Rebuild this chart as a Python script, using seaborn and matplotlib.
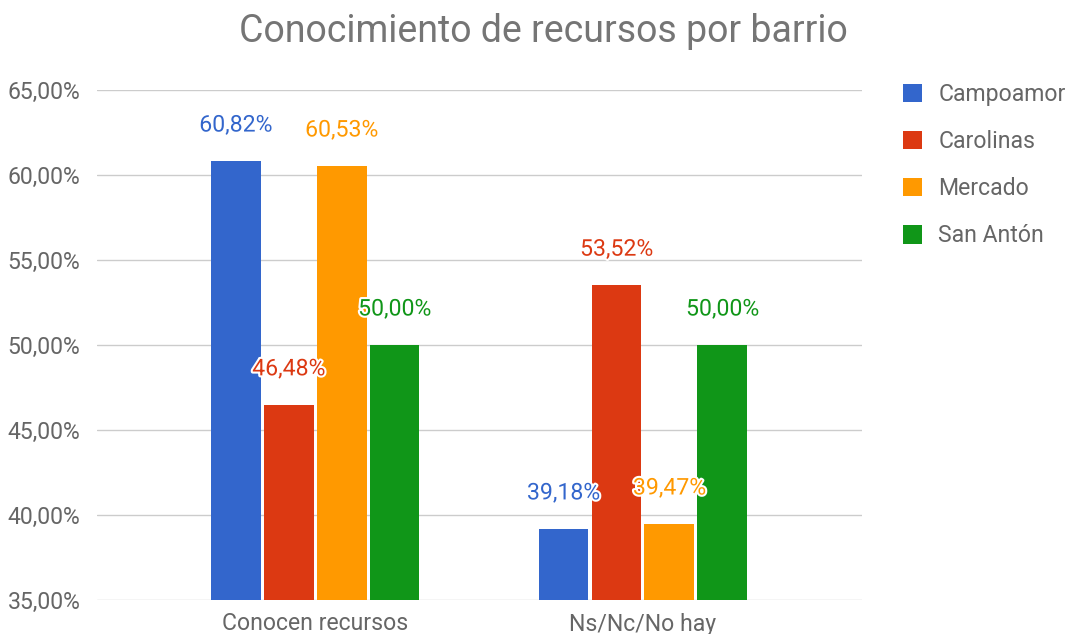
import matplotlib
matplotlib.use("Agg")
import matplotlib.pyplot as plt
import matplotlib.patheffects as pe
import seaborn as sns
import pandas as pd

categories = ["Conocen recursos", "Ns/Nc/No hay"]
barrios = ["Campoamor", "Carolinas", "Mercado", "San Antón"]
campoamor = [60.82, 39.18]
carolinas = [46.48, 53.52]
mercado = [60.53, 39.47]
san_anton = [50.00, 50.00]
colors = ["#3366cc", "#dc3912", "#ff9900", "#109618"]
title = "Conocimiento de recursos por barrio"
yticks = [35, 40, 45, 50, 55, 60, 65]

series = [campoamor, carolinas, mercado, san_anton]
rows = []
for b, vals in zip(barrios, series):
    for c, v in zip(categories, vals):
        rows.append({"cat": c, "barrio": b, "value": v})
df = pd.DataFrame(rows)

sns.set_theme(style="white")
plt.rcParams["font.family"] = ["Roboto", "DejaVu Sans"]

FS = 16.6

fig = plt.figure(figsize=(10.71, 6.34), dpi=100)
ax = fig.add_axes([97/1071, 1-600/634, (862-97)/1071, (600-90)/634])

sns.barplot(data=df, x="cat", y="value", hue="barrio", hue_order=barrios,
            palette=colors, saturation=1, width=0.646, gap=0.057, ax=ax,
            edgecolor="none")

ax.set_ylim(35, 65)
ax.set_xlim(-0.665, 1.668)
ax.set_yticks(yticks)
ax.set_yticklabels([f"{t:.2f}".replace(".", ",") + "%" for t in yticks])
ax.yaxis.grid(True, color="#cccccc", linewidth=1)
ax.set_axisbelow(True)
for s in ax.spines.values():
    s.set_visible(False)
ax.tick_params(axis="y", length=0, pad=12, labelsize=FS, labelcolor="#666666")
ax.tick_params(axis="x", length=0, pad=9, labelsize=FS, labelcolor="#666666")
ax.set_xlabel("")
ax.set_ylabel("")

for cont, col in zip(ax.containers, colors):
    for bar in cont:
        h = bar.get_height()
        ax.annotate(f"{h:.2f}".replace(".", ",") + "%",
                    xy=(bar.get_x() + bar.get_width()/2, h),
                    xytext=(0, 36), textcoords="offset pixels",
                    ha="center", va="center", fontsize=FS, color=col,
                    path_effects=[pe.withStroke(linewidth=3, foreground="white")],
                    annotation_clip=False)

handles, labels = ax.get_legend_handles_labels()
ax.legend(handles, labels, loc="upper left", bbox_to_anchor=(882/1071, 1-62/634),
          bbox_transform=fig.transFigure, frameon=False, fontsize=FS,
          handlelength=0.85, handleheight=0.85, handletextpad=0.7,
          labelspacing=1.05, labelcolor="#666666")

fig.text(543/1071, 1-32/634, title, ha="center", va="center",
         fontsize=27, color="#757575")

fig.savefig("out.png", dpi=100)
